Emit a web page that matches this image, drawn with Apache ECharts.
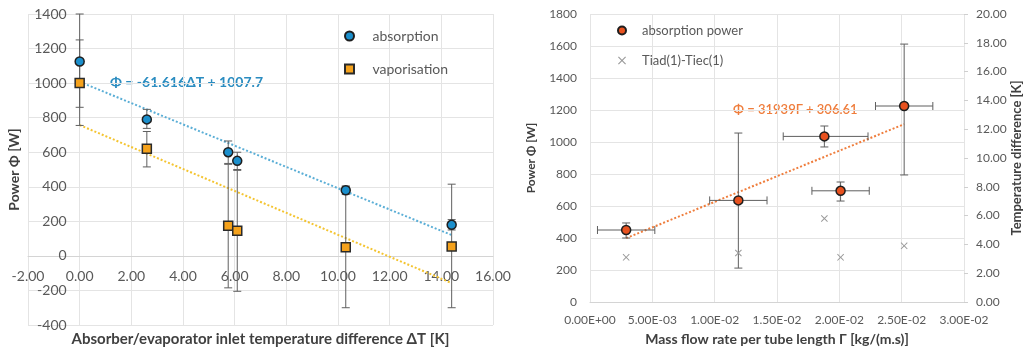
<!DOCTYPE html>
<html>
<head>
<meta charset="utf-8">
<script src="https://cdn.jsdelivr.net/npm/echarts@6/dist/echarts.min.js"></script>
<style>
  html, body { margin: 0; padding: 0; background: #fff; }
  #chart { width: 1031px; height: 351px; }
</style>
</head>
<body>
<div id="chart"></div>
<script>
// left panel: power vs inlet temperature difference
const dT = [0, 2.6, 5.75, 6.1, 10.3, 14.4]
const absPower = [1125, 790, 600, 550, 380, 180]
const absLow = [860, 738, 535, 500, 355, 150]
const absHigh = [1400, 848, 665, 600, 405, 210]
const vapPower = [1000, 620, 175, 145, 50, 55]
const vapLow = [755, 515, -185, -205, -300, -300]
const vapHigh = [1250, 720, 530, 495, 400, 415]
const absTrend = [-61.616, 1007.7]   // slope, intercept (from label)
const vapTrend = [-63.5, 757]
const trendRange = [0, 14.4]
const dTAxis = [-2, 16, 2]
const powAxisL = [-400, 1400, 200]

// right panel: power vs mass flow rate
const gamma = [0.0029, 0.0119, 0.0188, 0.0201, 0.0252]
const gammaLow = [0.0006, 0.0096, 0.0155, 0.0178, 0.0229]
const gammaHigh = [0.0052, 0.0142, 0.0223, 0.0224, 0.0275]
const powAbs = [450, 635, 1035, 695, 1225]
const powLow = [400, 212, 969, 631, 794]
const powHigh = [494, 1056, 1100, 750, 1612]
const tempDiff = [3.1, 3.4, 5.8, 3.1, 3.9]
const powTrend = [31939, 306.61]
const powTrendRange = [0.0029, 0.0252]

const FONT = 'Lato'
const TXT = '#595959'
const TITLE = '#404040'
const GRID = '#e4e4e4'
const BAR = '#5f5f5f'

const gridL = { left: 28, top: 14, width: 465, height: 311 }
const gridR = { left: 590, top: 14, width: 374, height: 288 }

// axes of the left panel cross at zero (Excel style)
const xZeroShift = -gridL.height * (0 - powAxisL[0]) / (powAxisL[1] - powAxisL[0])
const yZeroShift = -gridL.width * (0 - dTAxis[0]) / (dTAxis[1] - dTAxis[0])

const sciLabel = (v) => {
  if (v === 0) return '0.00E+00'
  const [m, e] = v.toExponential(2).split('e')
  const n = parseInt(e, 10)
  return m + 'E' + (n < 0 ? '-' : '+') + String(Math.abs(n)).padStart(2, '0')
}

const trendLine = (coef, range) => range.map(x => [x, coef[0] * x + coef[1]])

// vertical error bars: data [x, lo, hi]
const vBars = (params, api) => {
  const x = api.value(0)
  const a = api.coord([x, api.value(1)])
  const b = api.coord([x, api.value(2)])
  const c = 4
  const st = { stroke: BAR, lineWidth: 1 }
  return {
    type: 'group',
    children: [
      { type: 'line', shape: { x1: a[0], y1: a[1], x2: b[0], y2: b[1] }, style: st },
      { type: 'line', shape: { x1: a[0] - c, y1: a[1], x2: a[0] + c, y2: a[1] }, style: st },
      { type: 'line', shape: { x1: b[0] - c, y1: b[1], x2: b[0] + c, y2: b[1] }, style: st }
    ]
  }
}

// x and y error bars: data [x, y, xlo, xhi, ylo, yhi]
const xyBars = (params, api) => {
  const x = api.value(0)
  const y = api.value(1)
  const l = api.coord([api.value(2), y])
  const r = api.coord([api.value(3), y])
  const b = api.coord([x, api.value(4)])
  const t = api.coord([x, api.value(5)])
  const c = 4
  const st = { stroke: BAR, lineWidth: 1 }
  return {
    type: 'group',
    children: [
      { type: 'line', shape: { x1: l[0], y1: l[1], x2: r[0], y2: r[1] }, style: st },
      { type: 'line', shape: { x1: l[0], y1: l[1] - c, x2: l[0], y2: l[1] + c }, style: st },
      { type: 'line', shape: { x1: r[0], y1: r[1] - c, x2: r[0], y2: r[1] + c }, style: st },
      { type: 'line', shape: { x1: b[0], y1: b[1], x2: t[0], y2: t[1] }, style: st },
      { type: 'line', shape: { x1: b[0] - c, y1: b[1], x2: b[0] + c, y2: b[1] }, style: st },
      { type: 'line', shape: { x1: t[0] - c, y1: t[1], x2: t[0] + c, y2: t[1] }, style: st }
    ]
  }
}

const CROSS = 'path://M1,0 L5,4 L9,0 L10,1 L6,5 L10,9 L9,10 L5,6 L1,10 L0,9 L4,5 L0,1 Z'
const SQUARE = 'path://M0,0 L10,0 L10,10 L0,10 Z'

const chart = echarts.init(document.getElementById('chart'))

const option = {
  animation: false,
  backgroundColor: '#fff',
  textStyle: { fontFamily: FONT },
  grid: [
    Object.assign({ outerBoundsMode: 'none', containLabel: false }, gridL),
    Object.assign({ outerBoundsMode: 'none', containLabel: false }, gridR)
  ],
  legend: [
    {
      orient: 'vertical',
      left: 339,
      top: 24,
      itemWidth: 36,
      itemHeight: 9,
      itemGap: 19,
      textStyle: { fontFamily: FONT, fontSize: 14, color: TXT },
      data: ['absorption', 'vaporisation']
    },
    {
      orient: 'vertical',
      left: 612,
      top: 19,
      itemWidth: 30,
      itemHeight: 8,
      itemGap: 17,
      textStyle: { fontFamily: FONT, fontSize: 13, color: TXT },
      data: ['absorption power', 'Tiad(1)-Tiec(1)']
    }
  ],
  xAxis: [
    {
      gridIndex: 0,
      type: 'value',
      min: dTAxis[0],
      max: dTAxis[1],
      interval: dTAxis[2],
      offset: xZeroShift,
      axisLine: { onZero: false, lineStyle: { color: '#d4d4d4' } },
      axisTick: { show: false },
      axisLabel: { formatter: v => v.toFixed(2), color: TXT, fontSize: 14, margin: 14 },
      splitLine: { lineStyle: { color: GRID } },
      name: 'Absorber/evaporator inlet temperature difference ΔT [K]',
      nameLocation: 'middle',
      nameGap: 76,
      nameTextStyle: { fontFamily: FONT, fontWeight: 'bold', fontSize: 15, color: TITLE }
    },
    {
      gridIndex: 1,
      type: 'value',
      min: 0,
      max: 0.03,
      interval: 0.005,
      axisLine: { onZero: false, lineStyle: { color: '#d4d4d4' } },
      axisTick: { show: false },
      axisLabel: { formatter: sciLabel, color: TXT, fontSize: 12, margin: 12 },
      splitLine: { lineStyle: { color: GRID } },
      name: 'Mass flow rate per tube length Γ [kg/(m.s)]',
      nameLocation: 'middle',
      nameGap: 30,
      nameTextStyle: { fontFamily: FONT, fontWeight: 'bold', fontSize: 14, color: TITLE }
    }
  ],
  yAxis: [
    {
      gridIndex: 0,
      type: 'value',
      min: powAxisL[0],
      max: powAxisL[1],
      interval: powAxisL[2],
      offset: yZeroShift,
      axisLine: { show: true, onZero: false, lineStyle: { color: GRID } },
      axisTick: { show: false },
      axisLabel: { formatter: v => String(v), color: TXT, fontSize: 14, margin: 13 },
      splitLine: { lineStyle: { color: GRID } },
      name: 'Power Φ [W]',
      nameLocation: 'middle',
      nameRotate: 90,
      nameGap: 58,
      nameTextStyle: { fontFamily: FONT, fontWeight: 'bold', fontSize: 14, color: TITLE }
    },
    {
      gridIndex: 1,
      type: 'value',
      min: 0,
      max: 1800,
      interval: 200,
      axisLine: { show: false, onZero: false },
      axisTick: { show: false },
      axisLabel: { formatter: v => String(v), color: TXT, fontSize: 12, margin: 13 },
      splitLine: { lineStyle: { color: GRID } },
      name: 'Power Φ [W]',
      nameLocation: 'middle',
      nameRotate: 90,
      nameGap: 53,
      nameTextStyle: { fontFamily: FONT, fontWeight: 'bold', fontSize: 12, color: TITLE }
    },
    {
      gridIndex: 1,
      type: 'value',
      position: 'right',
      min: 0,
      max: 20,
      interval: 2,
      axisLine: { show: false, onZero: false },
      axisTick: { show: true, length: 4, lineStyle: { color: '#cfcfcf' } },
      axisLabel: { formatter: v => v.toFixed(2), color: TXT, fontSize: 12, margin: 12 },
      splitLine: { show: false },
      name: 'Temperature difference [K]',
      nameLocation: 'middle',
      nameRotate: 90,
      nameGap: 46,
      nameTextStyle: { fontFamily: FONT, fontWeight: 'bold', fontSize: 13, color: TITLE }
    }
  ],
  graphic: [
    {
      type: 'text',
      left: 110,
      top: 75,
      style: { text: 'Φ = -61.616ΔT + 1007.7', fill: '#2a8cc0', font: 'bold 14px Lato' }
    },
    {
      type: 'text',
      left: 733,
      top: 103,
      style: { text: 'Φ = 31939Γ + 306.61', fill: '#ef7d3c', font: '600 13px Lato' }
    }
  ],
  series: [
    {
      type: 'line',
      xAxisIndex: 0,
      yAxisIndex: 0,
      silent: true,
      symbol: 'none',
      data: trendLine(vapTrend, trendRange),
      lineStyle: { color: '#f4c430', width: 2, type: 'dotted' },
      z: 2
    },
    {
      type: 'line',
      xAxisIndex: 0,
      yAxisIndex: 0,
      silent: true,
      symbol: 'none',
      data: trendLine(absTrend, trendRange),
      lineStyle: { color: '#5aaed6', width: 2, type: 'dotted' },
      z: 2
    },
    {
      type: 'custom',
      xAxisIndex: 0,
      yAxisIndex: 0,
      renderItem: vBars,
      encode: { x: 0, y: [1, 2] },
      data: dT.map((x, i) => [x, vapLow[i], vapHigh[i]]),
      z: 3
    },
    {
      type: 'custom',
      xAxisIndex: 0,
      yAxisIndex: 0,
      renderItem: vBars,
      encode: { x: 0, y: [1, 2] },
      data: dT.map((x, i) => [x, absLow[i], absHigh[i]]),
      z: 3
    },
    {
      name: 'absorption',
      type: 'scatter',
      xAxisIndex: 0,
      yAxisIndex: 0,
      symbol: 'circle',
      symbolSize: 9,
      itemStyle: { color: '#1b8fcc', borderColor: '#1e1e1e', borderWidth: 1.5, opacity: 1 },
      data: dT.map((x, i) => [x, absPower[i]]),
      z: 5
    },
    {
      name: 'vaporisation',
      type: 'scatter',
      xAxisIndex: 0,
      yAxisIndex: 0,
      symbol: SQUARE,
      symbolSize: 9,
      itemStyle: { color: '#f5a21c', borderColor: '#2a2a2a', borderWidth: 1.5, opacity: 1 },
      data: dT.map((x, i) => [x, vapPower[i]]),
      z: 5
    },
    {
      type: 'line',
      xAxisIndex: 1,
      yAxisIndex: 1,
      silent: true,
      symbol: 'none',
      data: trendLine(powTrend, powTrendRange),
      lineStyle: { color: '#ef7d3c', width: 2, type: 'dotted' },
      z: 2
    },
    {
      type: 'custom',
      xAxisIndex: 1,
      yAxisIndex: 1,
      renderItem: xyBars,
      encode: { x: [0, 2, 3], y: [1, 4, 5] },
      data: gamma.map((x, i) => [x, powAbs[i], gammaLow[i], gammaHigh[i], powLow[i], powHigh[i]]),
      z: 3
    },
    {
      name: 'absorption power',
      type: 'scatter',
      xAxisIndex: 1,
      yAxisIndex: 1,
      symbol: 'circle',
      symbolSize: 9,
      itemStyle: { color: '#e8521f', borderColor: '#1e1e1e', borderWidth: 1.5, opacity: 1 },
      data: gamma.map((x, i) => [x, powAbs[i]]),
      z: 5
    },
    {
      name: 'Tiad(1)-Tiec(1)',
      type: 'scatter',
      xAxisIndex: 1,
      yAxisIndex: 2,
      symbol: CROSS,
      symbolSize: 7,
      itemStyle: { color: '#9a9a9a', opacity: 1 },
      data: gamma.map((x, i) => [x, tempDiff[i]]),
      z: 5
    }
  ]
}

chart.setOption(option)
</script>
</body>
</html>
